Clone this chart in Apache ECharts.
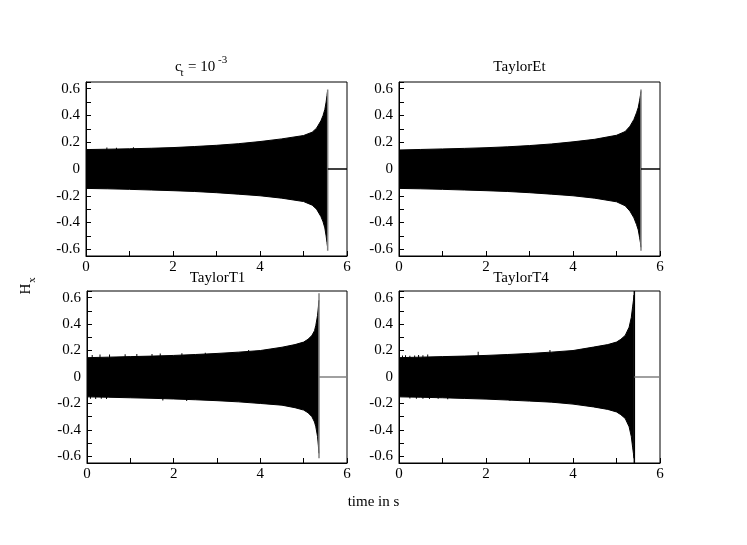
<!DOCTYPE html>
<html><head><meta charset="utf-8">
<script src="https://cdn.jsdelivr.net/npm/echarts@6/dist/echarts.min.js"></script>
<style>html,body{margin:0;padding:0;background:#fff}#c{width:747px;height:545px}</style>
</head><body><div id="c"></div>
<script>
// ---------- data ----------
const panelTitles = ['c_t = 10^-3', 'TaylorEt', 'TaylorT1', 'TaylorT4'];
const xLabel = 'time in s';
const yLabel = 'Hx';

// c_t = 10^-3 panel: envelope of the strain
const ctT  = [0, 0.5, 1, 1.5, 2, 2.5, 3, 3.5, 4, 4.5, 5, 5.2, 5.3, 5.4, 5.45, 5.49, 5.52, 5.54, 5.552];
const ctUp = [0.145, 0.148, 0.151, 0.155, 0.16, 0.168, 0.177, 0.189, 0.205, 0.225, 0.25, 0.275, 0.305, 0.36, 0.40, 0.445, 0.50, 0.55, 0.58];
const ctLo = [-0.145, -0.148, -0.152, -0.157, -0.162, -0.168, -0.177, -0.188, -0.2, -0.218, -0.243, -0.27, -0.30, -0.355, -0.395, -0.44, -0.5, -0.55, -0.58];
const ctSpikes = [[0.48, 0.16], [0.7, 0.158], [1.09, 0.162]];
const ctEnd = [5.556, 0.594, -0.61];   // merger time, top, bottom

// TaylorEt
const etT  = [0, 0.5, 1, 1.5, 2, 2.5, 3, 3.5, 4, 4.5, 5, 5.2, 5.31, 5.4, 5.46, 5.5, 5.53, 5.55, 5.56];
const etUp = [0.142, 0.146, 0.15, 0.154, 0.159, 0.166, 0.175, 0.187, 0.203, 0.222, 0.252, 0.28, 0.32, 0.37, 0.42, 0.46, 0.51, 0.55, 0.58];
const etLo = [-0.145, -0.148, -0.152, -0.157, -0.162, -0.168, -0.177, -0.188, -0.2, -0.218, -0.245, -0.275, -0.315, -0.365, -0.415, -0.455, -0.51, -0.55, -0.585];
const etSpikes = [];
const etEnd = [5.563, 0.594, -0.61];

// TaylorT1
const t1T  = [0, 0.5, 1, 1.5, 2, 2.5, 3, 3.5, 4, 4.5, 4.8, 5.0, 5.1, 5.19, 5.25, 5.28, 5.32, 5.34, 5.35];
const t1Up = [0.146, 0.15, 0.154, 0.158, 0.163, 0.17, 0.178, 0.188, 0.2, 0.225, 0.245, 0.264, 0.285, 0.314, 0.35, 0.39, 0.465, 0.53, 0.58];
const t1Lo = [-0.15, -0.153, -0.157, -0.161, -0.166, -0.172, -0.179, -0.188, -0.2, -0.213, -0.232, -0.25, -0.27, -0.30, -0.34, -0.376, -0.45, -0.52, -0.577];
const t1Spikes = [[0.12, 0.166], [0.3, 0.17], [0.52, 0.17], [0.88, 0.172], [1.15, 0.173], [1.5, 0.174], [1.69, 0.177], [2.19, 0.18], [2.73, 0.184], [3.73, 0.205],
                  [0.08, -0.165], [0.2, -0.166], [0.33, -0.165], [0.45, -0.166], [1.75, -0.178], [2.3, -0.182]];
const t1End = [5.354, 0.633, -0.615];

// TaylorT4
const t4T  = [0, 0.5, 1, 1.5, 2, 2.5, 3, 3.5, 4, 4.47, 4.8, 5.0, 5.1, 5.2, 5.29, 5.34, 5.37, 5.39, 5.40];
const t4Up = [0.146, 0.15, 0.154, 0.158, 0.163, 0.17, 0.178, 0.188, 0.2, 0.226, 0.245, 0.264, 0.285, 0.314, 0.376, 0.45, 0.53, 0.58, 0.62];
const t4Lo = [-0.15, -0.153, -0.157, -0.162, -0.167, -0.174, -0.182, -0.19, -0.205, -0.226, -0.245, -0.264, -0.285, -0.313, -0.376, -0.45, -0.53, -0.58, -0.615];
const t4Spikes = [[0.08, 0.162], [0.15, 0.165], [0.25, 0.16], [0.36, 0.163], [0.45, 0.167], [0.55, 0.165], [0.66, 0.17], [1.82, 0.19], [3.47, 0.205],
                  [0.25, -0.163], [0.4, -0.165], [0.55, -0.164], [0.7, -0.166], [0.9, -0.165], [1.12, -0.168], [2.55, -0.18]];
const t4End = [5.41, 0.65, -0.65];

const xMin = 0, xMax = 6, yMin = -0.65, yMax = 0.65;

// ---------- chart ----------
const FONT = '"Liberation Serif", "Times New Roman", serif';
const GREY = '#808080';
const panels = [
  {T: ctT, up: ctUp, lo: ctLo, sp: ctSpikes, end: ctEnd, endColor: GREY, zeroColor: '#000'},
  {T: etT, up: etUp, lo: etLo, sp: etSpikes, end: etEnd, endColor: GREY, zeroColor: '#000'},
  {T: t1T, up: t1Up, lo: t1Lo, sp: t1Spikes, end: t1End, endColor: GREY, zeroColor: GREY},
  {T: t4T, up: t4Up, lo: t4Lo, sp: t4Spikes, end: t4End, endColor: '#000', zeroColor: GREY}
];
const grids = [
  {left: 86, top: 82, width: 261, height: 174},
  {left: 399, top: 82, width: 261, height: 174},
  {left: 87, top: 291, width: 260, height: 172},
  {left: 399, top: 291, width: 261, height: 172}
];

const zip = (a, b) => a.map((v, i) => [v, b[i]]);

const option = {
  animation: false,
  backgroundColor: '#fff',
  grid: grids.map(g => Object.assign({show: true, borderColor: '#000', borderWidth: 1, containLabel: false}, g)),
  xAxis: grids.map((g, i) => ({
    type: 'value', gridIndex: i, min: xMin, max: xMax, interval: 1,
    axisLine: {show: true, onZero: false, lineStyle: {color: '#000', width: 1}},
    axisTick: {show: true, inside: true, length: 5, lineStyle: {color: '#000'}},
    splitLine: {show: false},
    axisLabel: {color: '#000', fontFamily: FONT, fontSize: 15, margin: 4,
      formatter: v => (Math.round(v) % 2 === 0 ? String(Math.round(v)) : '')}
  })),
  yAxis: grids.map((g, i) => ({
    type: 'value', gridIndex: i, min: yMin, max: yMax, splitNumber: 13,
    axisLine: {show: true, onZero: false, lineStyle: {color: '#000', width: 1}},
    axisTick: {show: true, inside: true, length: 5, lineStyle: {color: '#000'}},
    splitLine: {show: false},
    axisLabel: {color: '#000', fontFamily: FONT, fontSize: 15, margin: 6,
      formatter: v => {
        const k = Math.round(v * 10);
        if (Math.abs(v * 10 - k) > 0.01 || k % 2 !== 0 || Math.abs(k) > 6) return '';
        return String(Number((k / 10).toFixed(1)));
      }}
  })),
  series: [],
  graphic: []
};

panels.forEach((p, i) => {
  const base = {xAxisIndex: i, yAxisIndex: i, showSymbol: false, symbol: 'none', silent: true};
  if (p.sp.length) {
    option.series.push({type: 'bar', xAxisIndex: i, yAxisIndex: i, data: p.sp, barWidth: 1,
      itemStyle: {color: '#000'}, silent: true, z: 1});
  }
  option.series.push(Object.assign({type: 'line', data: zip(p.T, p.up), lineStyle: {color: '#000', width: 1},
    areaStyle: {color: '#000', opacity: 1, origin: 0}, z: 2}, base));
  option.series.push(Object.assign({type: 'line', data: zip(p.T, p.lo), lineStyle: {color: '#000', width: 1},
    areaStyle: {color: '#000', opacity: 1, origin: 0}, z: 2}, base));
  option.series.push(Object.assign({type: 'line', data: [[p.end[0], p.end[1]], [p.end[0], p.end[2]]],
    lineStyle: {color: p.endColor, width: 1.5}, z: 3}, base));
  option.series.push(Object.assign({type: 'line', data: [[p.end[0], 0], [xMax, 0]],
    lineStyle: {color: p.zeroColor, width: 1.3}, z: 3}, base));
});

const txt = (text, x, y, size, align, rot) => ({
  type: 'text', x: x, y: y, rotation: rot || 0, silent: true, z: 10,
  style: {text: text, font: size + 'px ' + FONT, fill: '#000',
          textAlign: align, textVerticalAlign: 'middle', align: align, verticalAlign: 'middle'}
});

option.graphic = [
  txt('c', 175, 66.6, 15, 'left'),
  txt('t', 180.5, 73, 11, 'left'),
  txt('= 10', 188, 66.6, 15, 'left'),
  txt('-3', 218, 60.3, 11, 'left'),
  txt(panelTitles[1], 519.5, 67, 15, 'center'),
  txt(panelTitles[2], 217.5, 277.7, 15, 'center'),
  txt(panelTitles[3], 521, 277.7, 15, 'center'),
  txt(xLabel, 373.5, 502, 15, 'center'),
  txt(yLabel.charAt(0), 26, 289, 15, 'center', Math.PI / 2),
  txt(yLabel.charAt(1), 32.5, 280, 11, 'center', Math.PI / 2)
];

const chart = echarts.init(document.getElementById('c'), null, {renderer: 'canvas'});
chart.setOption(option);
</script>
</body></html>
